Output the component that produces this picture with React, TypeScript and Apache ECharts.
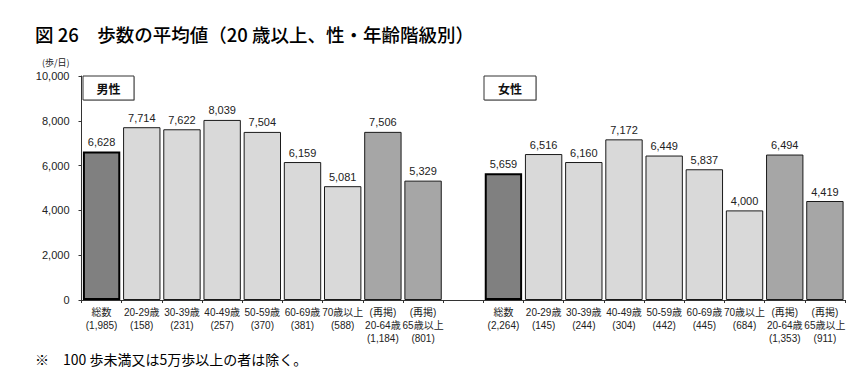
import React, { useEffect, useRef } from "react";
import * as echarts from "echarts";

const maleLabels = [
  "総数\n(1,985)",
  "20-29歳\n(158)",
  "30-39歳\n(231)",
  "40-49歳\n(257)",
  "50-59歳\n(370)",
  "60-69歳\n(381)",
  "70歳以上\n(588)",
  "(再掲)\n20-64歳\n(1,184)",
  "(再掲)\n65歳以上\n(801)",
];
const femaleLabels = [
  "総数\n(2,264)",
  "20-29歳\n(145)",
  "30-39歳\n(244)",
  "40-49歳\n(304)",
  "50-59歳\n(442)",
  "60-69歳\n(445)",
  "70歳以上\n(684)",
  "(再掲)\n20-64歳\n(1,353)",
  "(再掲)\n65歳以上\n(911)",
];
const maleValues = [6628, 7714, 7622, 8039, 7504, 6159, 5081, 7506, 5329];
const femaleValues = [5659, 6516, 6160, 7172, 6449, 5837, 4000, 6494, 4419];
const groupKinds = ["total", "age", "age", "age", "age", "age", "age", "re", "re"];
const yTicks = { min: 0, max: 10000, interval: 2000 };

const kindStyle: Record<string, any> = {
  total: { color: "#808080", borderColor: "#000000", borderWidth: 2 },
  age: { color: "#d9d9d9", borderColor: "#1a1a1a", borderWidth: 1 },
  re: { color: "#a6a6a6", borderColor: "#1a1a1a", borderWidth: 1 },
};

export default function App() {
  const ref = useRef<HTMLDivElement>(null);
  useEffect(() => {
    if (!ref.current) return;
    const chart = echarts.init(ref.current, null, { renderer: "svg" });
    const categories = [...maleLabels, "", ...femaleLabels];
    const mk = (vals: number[]) =>
      vals.map((v, i) => ({ value: v, itemStyle: kindStyle[groupKinds[i]] }));
    const data: any[] = [...mk(maleValues), { value: "-" }, ...mk(femaleValues)];
    const font = "Arial, 'Liberation Sans', 'Noto Sans CJK JP', sans-serif";
    const cjk = "'Noto Sans CJK JP', sans-serif";
    chart.setOption({
      animation: false,
      textStyle: { fontFamily: font },
      grid: { left: 81.5, right: 18, top: 76, bottom: 78, containLabel: false },
      xAxis: {
        type: "category",
        data: categories,
        axisLine: { lineStyle: { color: "#333", width: 1 } },
        axisTick: { show: true, length: 3, lineStyle: { color: "#333" }, interval: 0 },
        axisLabel: {
          interval: 0,
          fontSize: 10,
          color: "#222",
          lineHeight: 13,
          margin: 6,
          fontFamily: font,
        },
      },
      yAxis: {
        type: "value",
        min: yTicks.min,
        max: yTicks.max,
        interval: yTicks.interval,
        splitLine: { show: false },
        axisLine: { show: true, lineStyle: { color: "#333" } },
        axisTick: { show: true, length: 3, lineStyle: { color: "#333" } },
        axisLabel: {
          fontSize: 11,
          color: "#222",
          margin: 12,
          formatter: (v: number) => v.toLocaleString("en-US"),
        },
      },
      series: [
        {
          type: "bar",
          data,
          barCategoryGap: "7%",
          label: {
            show: true,
            position: "top",
            distance: 4,
            fontSize: 11,
            color: "#222",
            formatter: (p: any) => Number(p.value).toLocaleString("en-US"),
          },
        },
      ],
      graphic: [
        {
          type: "text",
          left: 35,
          top: 25,
          style: {
            text: "図 26\u3000歩数の平均値（20 歳以上、性・年齢階級別）",
            fontSize: 18.5,
            fontWeight: 500,
            fill: "#000",
            fontFamily: cjk,
          },
        },
        {
          type: "text",
          left: 42,
          top: 58,
          style: { text: "(歩/日)", fontSize: 9, fill: "#222", fontFamily: cjk },
        },
        {
          type: "rect",
          shape: { x: 84, y: 77, width: 51, height: 24 },
          style: { fill: "#c8c8c8" },
        },
        {
          type: "rect",
          shape: { x: 83, y: 76, width: 51, height: 24 },
          style: { fill: "#fff", stroke: "#333", lineWidth: 1 },
        },
        {
          type: "text",
          x: 108.5,
          y: 88,
          style: {
            text: "男性",
            fontSize: 12,
            fontWeight: "bold",
            fill: "#111",
            align: "center",
            verticalAlign: "middle",
            fontFamily: cjk,
          },
        },
        {
          type: "rect",
          shape: { x: 485, y: 77, width: 52, height: 24 },
          style: { fill: "#c8c8c8" },
        },
        {
          type: "rect",
          shape: { x: 484, y: 76, width: 52, height: 24 },
          style: { fill: "#fff", stroke: "#333", lineWidth: 1 },
        },
        {
          type: "text",
          x: 510,
          y: 88,
          style: {
            text: "女性",
            fontSize: 12,
            fontWeight: "bold",
            fill: "#111",
            align: "center",
            verticalAlign: "middle",
            fontFamily: cjk,
          },
        },
        {
          type: "text",
          left: 35,
          top: 352,
          style: {
            text: "※\u3000100 歩未満又は5万歩以上の者は除く。",
            fontSize: 14,
            fill: "#000",
            fontFamily: cjk,
          },
        },
      ],
    });
    return () => chart.dispose();
  }, []);
  return (
    <div
      ref={ref}
      style={{ position: "absolute", left: 0, top: 0, width: 863, height: 378, background: "#fff" }}
    />
  );
}
